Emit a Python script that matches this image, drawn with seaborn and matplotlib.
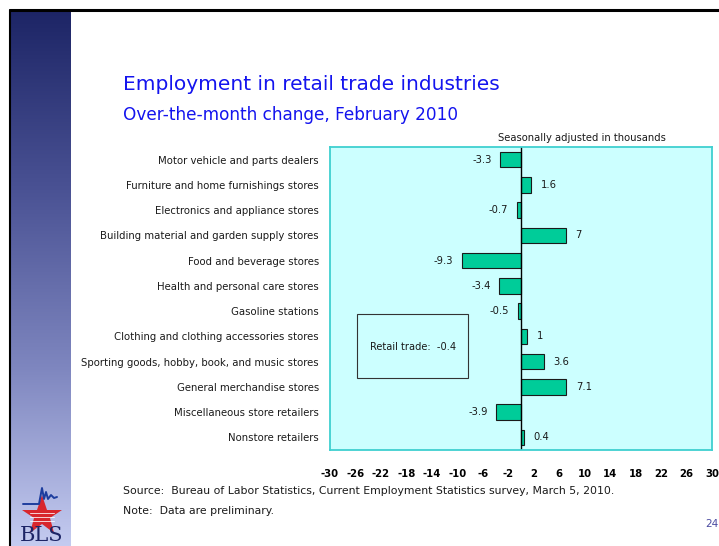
import numpy as np
import pandas as pd
import matplotlib
matplotlib.use("Agg")
import matplotlib.pyplot as plt
import seaborn as sns
from matplotlib.patches import Rectangle
from matplotlib.colors import LinearSegmentedColormap

categories = [
    "Motor vehicle and parts dealers",
    "Furniture and home furnishings stores",
    "Electronics and appliance stores",
    "Building material and garden supply stores",
    "Food and beverage stores",
    "Health and personal care stores",
    "Gasoline stations",
    "Clothing and clothing accessories stores",
    "Sporting goods, hobby, book, and music stores",
    "General merchandise stores",
    "Miscellaneous store retailers",
    "Nonstore retailers",
]
values = [-3.3, 1.6, -0.7, 7, -9.3, -3.4, -0.5, 1, 3.6, 7.1, -3.9, 0.4]
value_labels = ["-3.3", "1.6", "-0.7", "7", "-9.3", "-3.4", "-0.5", "1", "3.6", "7.1", "-3.9", "0.4"]
x_ticks = list(range(-30, 31, 4))
total_label = "Retail trade:  -0.4"

sns.set_theme(style="white")
plt.rcParams["font.family"] = ["DejaVu Sans"]

W, H = 719, 546
fig = plt.figure(figsize=(W / 100, H / 100), dpi=100)
fig.patch.set_facecolor("white")

def fx(px):
    return px / W

def fy(py):
    return 1 - py / H

# left gradient bar
gax = fig.add_axes([fx(11), 0, fx(60), fy(11)])
cmap = LinearSegmentedColormap.from_list("g", ["#1d2566", "#4a5294", "#7e86bf", "#c4cbf0"])
grad = np.linspace(0, 1, 256).reshape(-1, 1)
gax.imshow(grad, aspect="auto", cmap=cmap, extent=[0, 1, 0, 1], origin="upper")
gax.set_axis_off()

# slide border lines
fig.add_artist(plt.Line2D([fx(10), 1], [fy(10), fy(10)], color="black", lw=2.2))
fig.add_artist(plt.Line2D([fx(10), fx(10)], [0, fy(10)], color="black", lw=1.5))

# BLS logo (simplified); axes spans pixel rows 480..546, columns 11..71
lax = fig.add_axes([fx(11), 0, fx(60), fy(480)])
lax.set_xlim(0, 60)
lax.set_ylim(66, 0)
lax.set_axis_off()
lax.plot([31], [36], marker="*", markersize=30, color="#d8262c", markeredgewidth=0)
for yy in (33, 37, 41):
    lax.plot([19, 43], [yy, yy], color="white", lw=0.7, alpha=0.8)
lax.plot([12, 28, 31, 33, 35, 37, 40, 43, 46], [24, 24, 8, 19, 12, 19, 15, 18, 17],
         color="#1d3d9e", lw=1.4)
lax.text(31, 65, "BLS", ha="center", va="bottom", fontsize=15,
         family="DejaVu Serif", color="#1d2566")

# main axes
ax = fig.add_axes([fx(330), fy(450), fx(712) - fx(330), fy(147) - fy(450)])
df = pd.DataFrame({"category": categories, "value": values})
sns.barplot(data=df, x="value", y="category", orient="h", color="#00cc99",
            edgecolor="#1a1a1a", linewidth=0.8, width=0.62, saturation=1, ax=ax)
ax.set_facecolor("#ccffff")
ax.set_xlim(-30, 30)
ax.set_xticks(x_ticks)
ax.set_xticklabels([str(t) for t in x_ticks], fontsize=7.3, fontweight="bold", color="black")
ax.tick_params(axis="x", length=0, pad=14)
ax.tick_params(axis="y", length=0, pad=8, labelsize=7.3, labelcolor="#1a1a1a")
ax.set_xlabel("")
ax.set_ylabel("")
for s in ax.spines.values():
    s.set_color("#3fd0d0")
    s.set_linewidth(1.3)
ax.axvline(0, color="black", lw=1.0)
ax.grid(False)

for i, (v, lab) in enumerate(zip(values, value_labels)):
    if v < 0:
        ax.annotate(lab, (v, i), xytext=(-6, 0), textcoords="offset points",
                    ha="right", va="center", fontsize=7.2, color="#1a1a1a")
    else:
        ax.annotate(lab, (v, i), xytext=(7, 0), textcoords="offset points",
                    ha="left", va="center", fontsize=7.2, color="#1a1a1a")

# retail trade box
fig.add_artist(Rectangle((fx(357), fy(378)), fx(468) - fx(357), fy(314) - fy(378),
                         transform=fig.transFigure, facecolor="none", edgecolor="#333333", lw=0.8))
fig.text(fx(413), fy(347), total_label, ha="center", va="center", fontsize=7.1, color="#1a1a1a")

# titles and notes
fig.text(fx(123), fy(85), "Employment in retail trade industries", fontsize=14.5,
         color="#1414ee", ha="left", va="center")
fig.text(fx(123), fy(115), "Over-the-month change, February 2010", fontsize=12.2,
         color="#1414ee", ha="left", va="center")
fig.text(fx(582), fy(138), "Seasonally adjusted in thousands", fontsize=7.2,
         color="#1a1a1a", ha="center", va="center")
fig.text(fx(123), fy(491), "Source:  Bureau of Labor Statistics, Current Employment Statistics survey, March 5, 2010.",
         fontsize=7.8, color="#1a1a1a", ha="left", va="center")
fig.text(fx(123), fy(511), "Note:  Data are preliminary.", fontsize=7.8, color="#1a1a1a",
         ha="left", va="center")
fig.text(fx(718), fy(524), "24", fontsize=7.5, color="#4a4aa0", ha="right", va="center")

fig.savefig("out.png", dpi=100)
